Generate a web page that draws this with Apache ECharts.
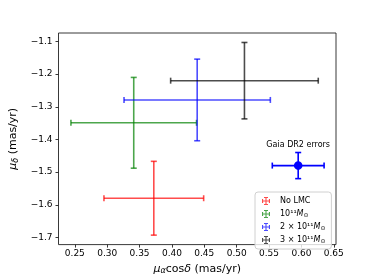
<!DOCTYPE html>
<html><head><meta charset="utf-8">
<script src="https://cdn.jsdelivr.net/npm/echarts@6/dist/echarts.min.js"></script>
<style>html,body{margin:0;padding:0;background:#fff}#c{width:374px;height:280px}</style>
</head><body><div id="c"></div>
<script>
// Data
const seriesNames = ['No LMC', '1e11', '2e11', '3e11'];
const seriesColors = ['rgba(255,0,0,0.7)', 'rgba(0,128,0,0.7)', 'rgba(0,0,255,0.7)', 'rgba(0,0,0,0.7)'];
// [x, y, xerr, yerr]
const noLMC = [[0.372, -1.580, 0.077, 0.113]];
const lmc1 = [[0.341, -1.349, 0.097, 0.139]];
const lmc2 = [[0.439, -1.279, 0.113, 0.125]];
const lmc3 = [[0.512, -1.220, 0.114, 0.117]];
const gaia = [[0.595, -1.480, 0.040, 0.040]];
const gaiaLabel = 'Gaia DR2 errors';
const xTicks = [0.25, 0.30, 0.35, 0.40, 0.45, 0.50, 0.55, 0.60, 0.65];
const yTicks = [-1.7, -1.6, -1.5, -1.4, -1.3, -1.2, -1.1];
const legendLabels = {
  'No LMC': 'No LMC',
  '1e11': '10¹¹{m|M}{s|⊙}',
  '2e11': '2 × 10¹¹{m|M}{s|⊙}',
  '3e11': '3 × 10¹¹{m|M}{s|⊙}'
};

const FONT = 'DejaVu Sans';
const CAP = 3;

function errRender(params, api) {
  const x = api.value(0), y = api.value(1), ex = api.value(2), ey = api.value(3);
  const color = api.visual('color');
  const l = api.coord([x - ex, y]), r = api.coord([x + ex, y]);
  const t = api.coord([x, y + ey]), b = api.coord([x, y - ey]);
  const st = { stroke: color, lineWidth: 1.6 };
  const ln = (x1, y1, x2, y2) => ({ type: 'line', shape: { x1, y1, x2, y2 }, style: st });
  return {
    type: 'group',
    children: [
      ln(l[0], l[1], r[0], r[1]),
      ln(t[0], t[1], b[0], b[1]),
      ln(l[0], l[1] - CAP, l[0], l[1] + CAP),
      ln(r[0], r[1] - CAP, r[0], r[1] + CAP),
      ln(t[0] - CAP, t[1], t[0] + CAP, t[1]),
      ln(b[0] - CAP, b[1], b[0] + CAP, b[1])
    ]
  };
}

function gaiaRender(params, api) {
  const g = errRender(params, api);
  const c = api.coord([api.value(0), api.value(1)]);
  const t = api.coord([api.value(0), api.value(1) + api.value(3)]);
  g.children.push({ type: 'circle', shape: { cx: c[0], cy: c[1], r: 4.3 }, style: { fill: '#0000ff' } });
  g.children.push({ type: 'text', x: c[0], y: t[1] - 8, style: { text: gaiaLabel, font: '8px "' + FONT + '"', fill: '#000', align: 'center', verticalAlign: 'middle' } });
  return g;
}

const iconPath = 'path://M0,4.3L10,4.3L10,5.7L0,5.7Z M4.3,0L5.7,0L5.7,10L4.3,10Z M0,2.5L1.4,2.5L1.4,7.5L0,7.5Z M8.6,2.5L10,2.5L10,7.5L8.6,7.5Z M2.5,0L7.5,0L7.5,1.4L2.5,1.4Z M2.5,8.6L7.5,8.6L7.5,10L2.5,10Z';

const datasets = [noLMC, lmc1, lmc2, lmc3];
const series = datasets.map((d, i) => ({
  name: seriesNames[i], type: 'custom', renderItem: errRender,
  itemStyle: { color: seriesColors[i] }, data: d, clip: false, z: 2 + i
}));
series.push({ name: 'gaia', type: 'custom', renderItem: gaiaRender, itemStyle: { color: '#0000ff' }, data: gaia, clip: false, z: 10 });

const chart = echarts.init(document.getElementById('c'), null, { renderer: 'canvas' });
chart.setOption({
  animation: false,
  backgroundColor: '#fff',
  grid: { left: 46, right: 38, top: 33, bottom: 31, show: true, borderColor: '#222', borderWidth: 0.9, backgroundColor: 'transparent' },
  xAxis: {
    type: 'value', min: 0.2248, max: 0.6534,
    axisLine: { show: false }, splitLine: { show: false },
    axisTick: { show: true, length: 3, customValues: xTicks, lineStyle: { color: '#222', width: 0.9 } },
    axisLabel: { customValues: xTicks, margin: 5, fontFamily: FONT, fontSize: 9, color: '#000', formatter: v => v.toFixed(2) },
    name: '{m|μ}{s|α}cos{m|δ} (mas/yr)', nameLocation: 'middle', nameGap: 14,
    nameTextStyle: { fontFamily: FONT, fontSize: 11, color: '#000', verticalAlign: 'top',
      rich: { m: { fontFamily: FONT, fontSize: 11, fontStyle: 'italic' }, s: { fontFamily: FONT, fontSize: 8, fontStyle: 'italic', verticalAlign: 'bottom', padding: [4, 0, 0, 0] } } }
  },
  yAxis: {
    type: 'value', min: -1.722, max: -1.074,
    axisLine: { show: false }, splitLine: { show: false },
    axisTick: { show: true, length: 3, customValues: yTicks, lineStyle: { color: '#222', width: 0.9 } },
    axisLabel: { customValues: yTicks, margin: 6, fontFamily: FONT, fontSize: 9, color: '#000', formatter: v => (v < 0 ? '\u2212' : '') + Math.abs(v).toFixed(1) },
    name: '{m|μ}{s|δ} (mas/yr)', nameLocation: 'middle', nameGap: 39, nameRotate: 90,
    nameTextStyle: { fontFamily: FONT, fontSize: 11, color: '#000',
      rich: { m: { fontFamily: FONT, fontSize: 11, fontStyle: 'italic' }, s: { fontFamily: FONT, fontSize: 8, fontStyle: 'italic', padding: [4, 0, 0, 0] } } }
  },
  legend: {
    show: true, orient: 'vertical', left: 255, top: 192,
    data: seriesNames.map(n => ({ name: n, icon: iconPath })),
    itemWidth: 8, itemHeight: 8, itemGap: 3,
    padding: [4, 6, 4, 7],
    borderColor: '#d0d0d0', borderWidth: 1, borderRadius: 3, backgroundColor: 'rgba(255,255,255,0.8)',
    formatter: n => legendLabels[n],
    textStyle: { fontFamily: FONT, fontSize: 8, color: '#000', padding: [0, 0, 0, 5], lineHeight: 10,
      rich: { m: { fontFamily: FONT, fontSize: 8, fontStyle: 'italic', lineHeight: 10 }, s: { fontFamily: FONT, fontSize: 6, padding: [3, 0, 0, 0], lineHeight: 10 } } }
  },
  series: series
});
</script></body></html>
